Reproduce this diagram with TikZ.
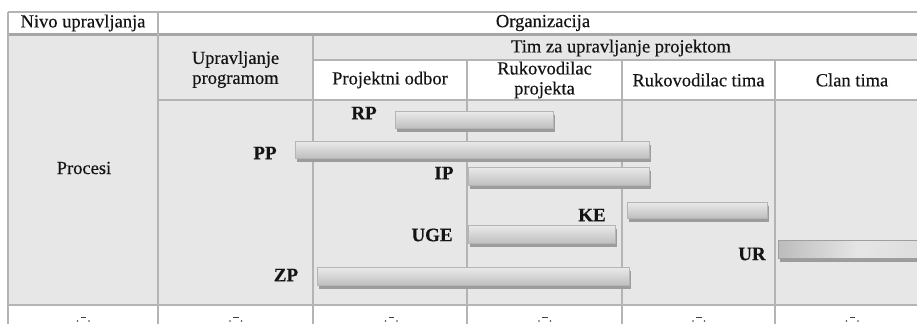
\documentclass[tikz,border=0pt]{standalone}
\usepackage{fontspec}
\setmainfont{Liberation Serif}[FakeBold=0.35]
\usetikzlibrary{shadows}

\definecolor{cellgray}{HTML}{E7E7E7}
\definecolor{rulegray}{HTML}{B4B4B4}
\definecolor{thickgray}{HTML}{A6A6A6}
\definecolor{inkgray}{HTML}{141414}

% bar face: darker towards the bottom, light band near the top
\pgfdeclareverticalshading{barshade}{100bp}{
  color(0bp)=(gray!65); color(30bp)=(gray!47); color(70bp)=(gray!20);
  color(88bp)=(gray!12); color(100bp)=(gray!32)}
% dark-ended bar: dark on the left, fading to light gray
\pgfdeclarehorizontalshading{darkshade}{100bp}{
  color(0bp)=(gray!95); color(15bp)=(gray!65); color(50bp)=(gray!20);
  color(80bp)=(gray!30); color(100bp)=(gray!55)}

\tikzset{
  grid/.style={draw=rulegray, line width=1.1pt},
  head/.style={font=\fontsize{18.5}{20}\selectfont, text=inkgray, align=center, inner sep=0pt},
  tag/.style={font=\fontsize{19}{19}\selectfont\bfseries, text=inkgray, inner sep=0pt},
  barbase/.style={anchor=north west, inner sep=0pt, line width=0.7pt,
    drop shadow={shadow xshift=2pt, shadow yshift=-3.5pt, fill=gray!78, opacity=1}},
  bar/.style={barbase, draw=gray!58, shading=barshade},
  darkbar/.style={barbase, draw=gray!75, shading=darkshade, shading angle=0},
  cut/.style={fill=inkgray!80}
}

\begin{document}
\begin{tikzpicture}[x=1pt, y=-1pt]
\useasboundingbox (0,0) rectangle (917,324);

% cell backgrounds
\fill[white] (8,12) rectangle (935,324);
\fill[cellgray] (8,35) rectangle (313,305);
\fill[cellgray] (313,35) rectangle (935,60);
\fill[cellgray] (158,100) rectangle (935,305);

% rules
\draw[grid] (8,12) -- (935,12);
\draw[draw=thickgray, line width=2.8pt] (8,34.5) -- (935,34.5);
\draw[grid] (313,60) -- (935,60);
\draw[grid] (158,100) -- (935,100);
\draw[grid] (8,305) -- (935,305);
\draw[grid] (8,12) -- (8,324);
\draw[grid] (158,12) -- (158,324);
\draw[grid] (313,36) -- (313,324);
\foreach \x in {467,622,775} \draw[grid] (\x,60) -- (\x,324);

% header texts
\node[head] (nivo) at (83,23) {Nivo upravljanja};
\node[head] (org) at (543,23) {Organizacija};
\node[head] (tim) at (621,48) {Tim za upravljanje projektom};
\node[head] (upr) at (235.5,69.5) {Upravljanje\\programom};
\node[head] (odbor) at (390,80) {Projektni odbor};
\node[head] (rukp) at (544.5,80) {Rukovodilac\\projekta};
\node[head] (rukt) at (698.5,80) {Rukovodilac tima};
\node[head] (clan) at (852,80) {Clan tima};
\node[head] (procesi) at (84,168) {Procesi};

% process bars
\node[bar, minimum width=158pt, minimum height=17pt] (rp) at (395,111) {};
\node[bar, minimum width=354pt, minimum height=17pt] (pp) at (295,141) {};
\node[bar, minimum width=181pt, minimum height=18pt] (ip) at (468,167) {};
\node[bar, minimum width=140pt, minimum height=16pt] (ke) at (627,202) {};
\node[bar, minimum width=147pt, minimum height=18pt] (uge) at (468,225) {};
\node[bar, minimum width=312pt, minimum height=18pt] (zp) at (317,267) {};
\node[darkbar, minimum width=160pt, minimum height=18pt] (ur) at (778,240) {};

% bar labels
\node[tag] (rpl) at (364,113) {RP};
\node[tag] (ppl) at (265,153) {PP};
\node[tag] (ipl) at (444,173) {IP};
\node[tag] (kel) at (592,215) {KE};
\node[tag] (ugel) at (432,235) {UGE};
\node[tag] (zpl) at (286,275) {ZP};
\node[tag] (url) at (752,254) {UR};

% clipped glyph tops in the last row
\foreach \c in {83,235.5,391,544.5,698.5,852} {
  \fill[cut] (\c-2.5,316.6) rectangle (\c+3,318.2);
  \fill[cut] (\c-5.5,321) circle (0.9);
  \fill[cut] (\c+6,321) circle (0.9);
}
\end{tikzpicture}
\end{document}
